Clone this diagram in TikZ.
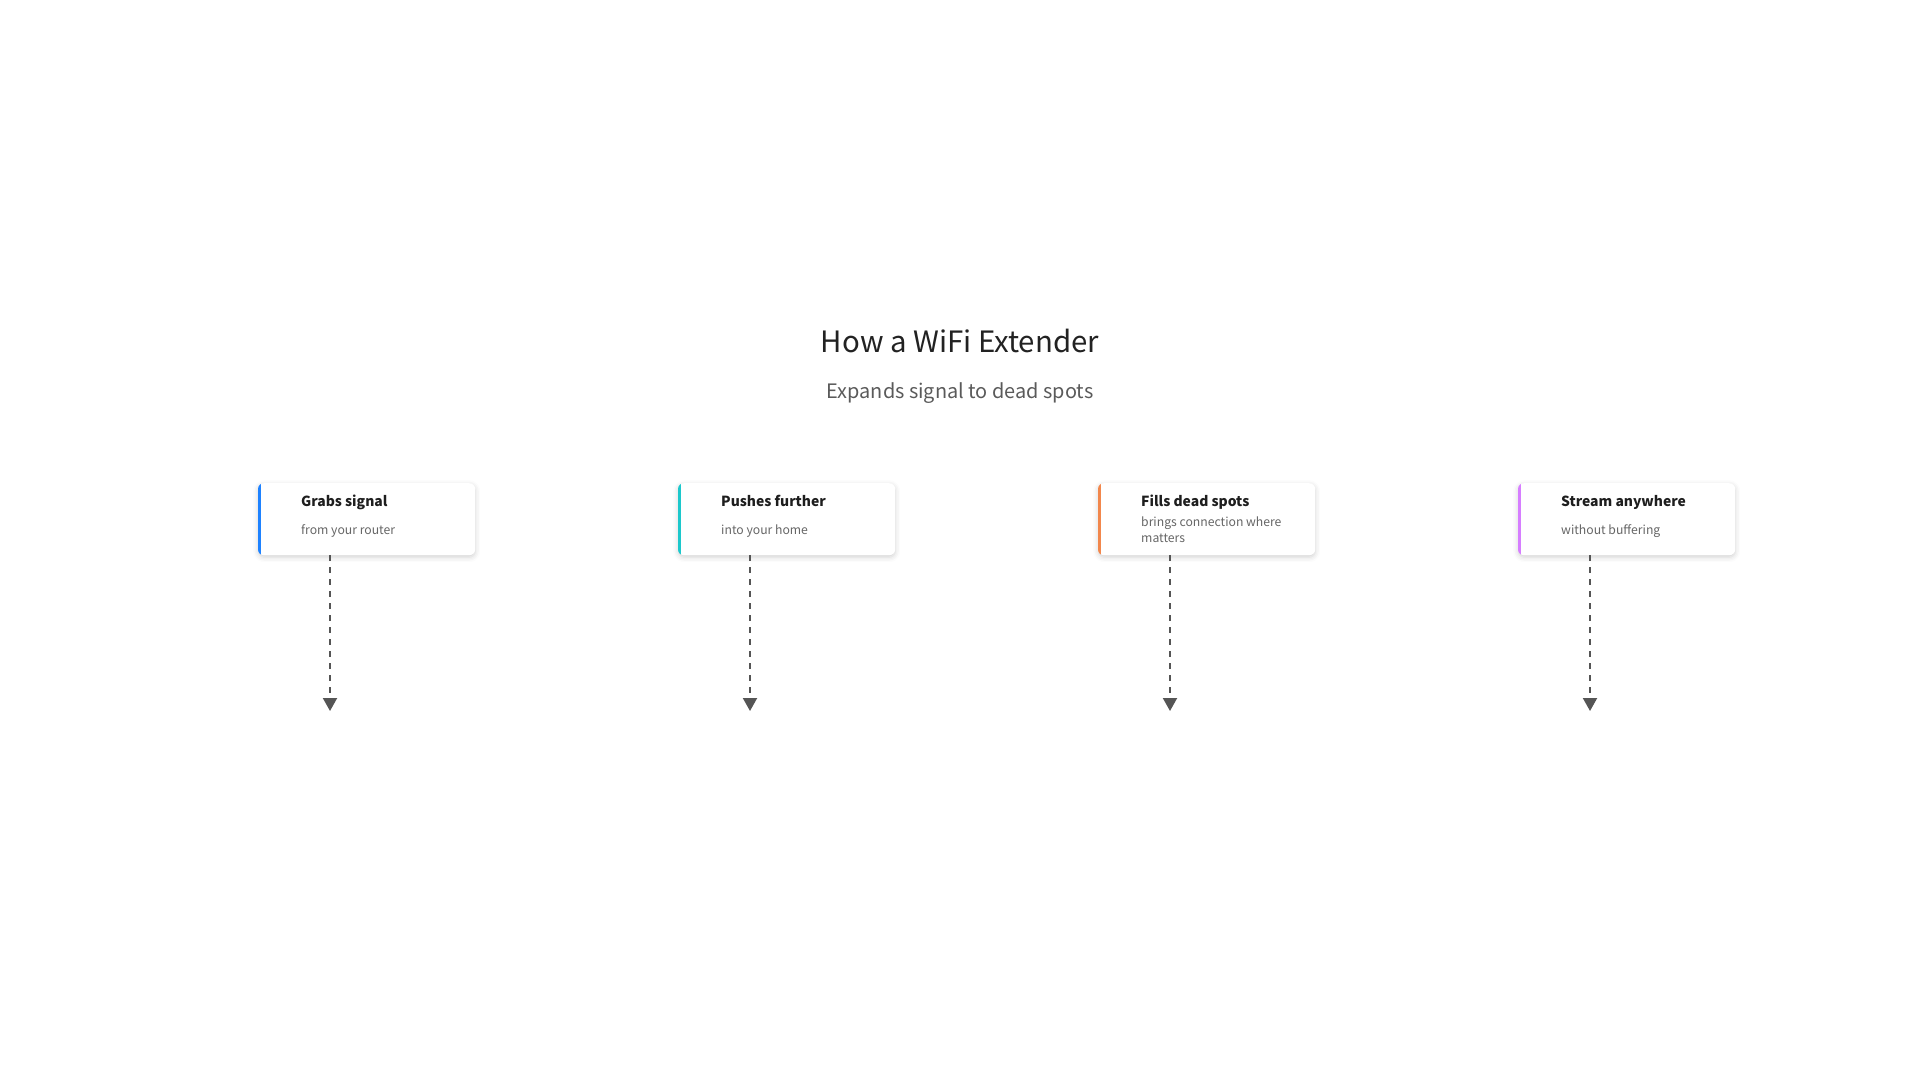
\documentclass[tikz,border=0pt]{standalone}
\usepackage{fontspec}
\setmainfont{Noto Sans CJK SC}
\usetikzlibrary{arrows.meta,shadows.blur}
\definecolor{titlec}{HTML}{222222}
\definecolor{subc}{HTML}{5A5A5A}
\definecolor{ctitle}{HTML}{1E1E1E}
\definecolor{csub}{HTML}{666666}
\definecolor{linec}{HTML}{555555}
\definecolor{acblue}{HTML}{1E82FF}
\definecolor{acteal}{HTML}{1CC8CC}
\definecolor{acorange}{HTML}{F2874C}
\definecolor{acpurple}{HTML}{D67EFF}
\tikzset{
  cardbox/.style={draw=none, fill=white, rounded corners=6pt, minimum width=217pt, minimum height=72pt, inner sep=0pt, anchor=north west,
    blur shadow={shadow xshift=0pt, shadow yshift=-2pt, shadow blur radius=5pt, shadow opacity=18}},
  ctitlestyle/.style={anchor=base west, inner sep=0pt, font=\fontsize{13.9}{17}\selectfont\bfseries, text=ctitle},
  csubstyle/.style={anchor=base west, inner sep=0pt, font=\fontsize{12.2}{16}\selectfont, text=csub, align=left},
  flowline/.style={draw=linec, line width=2pt, dash pattern=on 6pt off 6pt, -{Triangle[width=14pt,length=13pt]}},
}
\begin{document}
\begin{tikzpicture}[x=1pt,y=-1pt]
\useasboundingbox (0,0) rectangle (1920,1080);
\node[anchor=base, inner sep=0pt, font=\fontsize{29.4}{36}\selectfont, text=titlec] (title) at (960,352) {How a WiFi Extender};
\node[anchor=base, inner sep=0pt, font=\fontsize{19.9}{22}\selectfont, text=subc] (subtitle) at (960,398) {Expands signal to dead spots};
\foreach \i/\L/\col in {1/258/acblue,2/678/acteal,3/1098/acorange,4/1518/acpurple}{
  \node[cardbox] (c\i) at (\L,483) {};
  \begin{scope}
    \clip[rounded corners=6pt] (c\i.north west) rectangle (c\i.south east);
    \fill[\col] (c\i.north west) rectangle ([xshift=3pt]c\i.south west);
  \end{scope}
  \coordinate (a\i) at (\L+72,711);
  \draw[flowline] (c\i.south -| a\i) -- (a\i);
}
\node[ctitlestyle] (t1) at (301,506) {Grabs signal};
\node[csubstyle] (s1) at (301,534) {from your router};
\node[ctitlestyle] (t2) at (721,506) {Pushes further};
\node[csubstyle] (s2) at (721,534) {into your home};
\node[ctitlestyle] (t3) at (1141,506) {Fills dead spots};
\node[csubstyle] (s3) at (1141,526) {brings connection where};
\node[csubstyle] (s3b) at (1141,542) {matters};
\node[ctitlestyle] (t4) at (1561,506) {Stream anywhere};
\node[csubstyle] (s4) at (1561,534) {without buffering};
\end{tikzpicture}
\end{document}
